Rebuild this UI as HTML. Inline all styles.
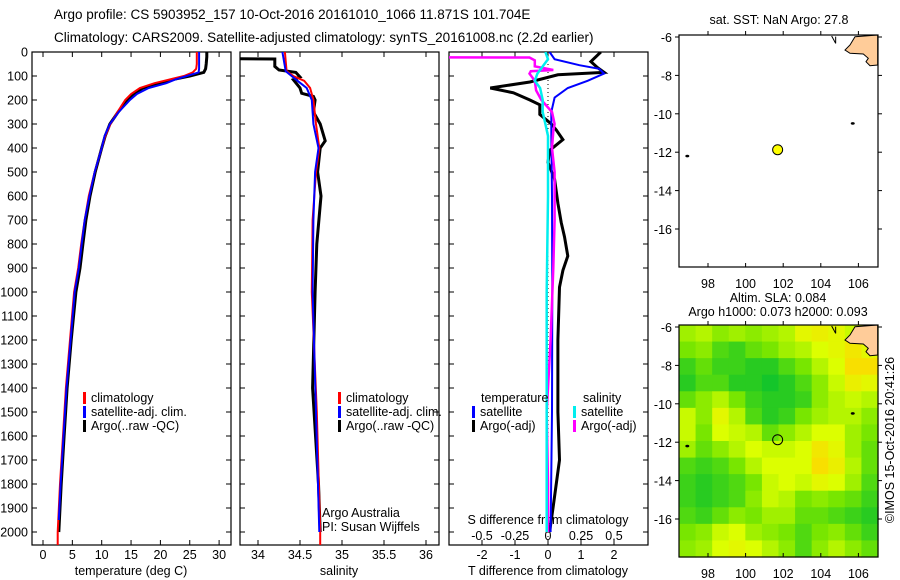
<!DOCTYPE html>
<html><head><meta charset="utf-8">
<style>
html,body{margin:0;padding:0;background:#fff;}
svg{display:block;font-family:"Liberation Sans",sans-serif;}
text{font-size:12.5px;fill:#000;}
</style></head>
<body>
<svg id="chart" width="900" height="580" viewBox="0 0 900 580" xmlns="http://www.w3.org/2000/svg">
<defs>
<clipPath id="c1"><rect x="32" y="52" width="199" height="493"/></clipPath>
<clipPath id="c2"><rect x="240" y="52" width="199" height="493"/></clipPath>
<clipPath id="c3"><rect x="449" y="52" width="199" height="493"/></clipPath>
<clipPath id="cm1"><rect x="679" y="35" width="199" height="232"/></clipPath>
<clipPath id="cm2"><rect x="679" y="325" width="199" height="232"/></clipPath>
</defs>
<text x="54" y="19" style="font-size:13.5px">Argo profile: CS 5903952_157 10-Oct-2016 20161010_1066 11.871S 101.704E</text>
<text x="54" y="42" style="font-size:13.5px">Climatology: CARS2009. Satellite-adjusted climatology: synTS_20161008.nc (2.2d earlier)</text>
<g id="g"></g>
</svg>
<script>
// ---------- data ----------
const depthTicks = [0,100,200,300,400,500,600,700,800,900,1000,1100,1200,1300,1400,1500,1600,1700,1800,1900,2000];
const tempTicks = [0,5,10,15,20,25,30];
const salTicks = [34,34.5,35,35.5,36];
const salTickLabels = ["34","34.5","35","35.5","36"];
const tdTicks = [-2,-1,0,1,2];
const sdTicks = [-0.5,-0.25,0,0.25,0.5];
const sdTickLabels = ["-0.5","-0.25","0","0.25","0.5"];

const depthTA = [0,20,50,70,85,100,115,130,150,175,200,250,300,350,400,500,600,700,800,900,1000,1200,1400,1600,1800,2000];
const tempArgo = [27.9,27.9,27.8,27.7,27.4,25,22,20,17,15.5,14.5,12.8,11.4,10.6,10,8.9,8,7.3,6.8,6.3,5.6,4.8,4.1,3.6,3.1,2.7];
const depthTC = [0,20,50,70,85,100,115,130,150,175,200,250,300,350,400,500,600,700,800,900,1000,1200,1400,1600,1800,2000,2055];
const tempClim = [26.2,26.2,26.2,26.1,25.5,24,21.5,19,16.5,15,14,12.7,11.5,10.6,10,8.8,7.8,7.1,6.5,6,5.3,4.6,3.9,3.4,2.9,2.5,2.5];
const depthTS = [0,20,50,70,85,100,115,130,150,175,200,250,300,350,400,500,600,700,800,900,1000,1200,1400,1600,1800,1950];
const tempSat = [26.6,26.6,26.6,26.6,26.5,24.5,22.5,21,18,16,14.8,12.9,11.4,10.5,10,8.8,7.9,7.1,6.6,6.1,5.4,4.7,4.0,3.5,3.0,2.7];

const depthSA = [28,29,60,75,85,104,115,150,172,185,200,250,300,370,400,500,600,800,1000,1400,1800,2000];
const salArgo = [33.6,34.2,34.2,34.25,34.45,34.5,34.42,34.5,34.52,34.66,34.68,34.66,34.74,34.8,34.74,34.71,34.75,34.7,34.68,34.65,34.72,34.74];
const depthSC = [0,80,100,120,150,200,300,400,500,700,1000,1500,2000,2055];
const salClim = [34.32,34.34,34.42,34.55,34.62,34.66,34.69,34.73,34.69,34.65,34.64,34.7,34.74,34.74];
const depthSS = [0,80,100,120,150,200,300,400,500,700,1000,1500,2000];
const salSat = [34.29,34.33,34.4,34.47,34.58,34.64,34.66,34.72,34.68,34.66,34.65,34.69,34.73];

const depthTDA = [0,40,65,85,95,125,150,170,200,220,260,300,325,365,410,460,530,630,710,770,850,910,980,1200,1400,1500,1700,1900,2000];
const tdArgo = [1.6,1.3,1.5,1.7,0.3,-0.55,-1.75,-1.05,-0.55,-0.25,-0.25,0.1,0.25,0.45,0.05,0,0.2,0.3,0.4,0.5,0.6,0.45,0.35,0.3,0.3,0.3,0.35,0.15,0.05];
const depthTDS = [0,30,55,70,90,120,150,190,250,350,600,1000,1500,2000];
const tdSat = [0.05,0.2,0.95,1.55,1.7,1.2,0.6,0.2,0.1,0.1,0.12,0.13,0.12,0.08];
const depthSDS = [0,30,60,90,120,150,200,250,300,350,600,1000,1500,2000];
const sdSat = [-0.02,0,-0.04,-0.08,-0.1,-0.06,-0.04,-0.04,-0.02,0,0,-0.01,-0.01,-0.01];
const depthSDA = [22,23,35,60,75,80,90,120,160,200,250,300,330,400,500,700,900,1200,1500,1800,2000];
const sdArgo = [-1,-0.14,-0.1,-0.1,0.04,-0.13,-0.14,-0.1,-0.09,-0.05,0.03,0.05,0.04,0.03,0.05,0.05,0.04,0.02,-0.01,0.0,0.0];

const lonTicks = [98,100,102,104,106];
const latTicks = [-6,-8,-10,-12,-14,-16];
const argoLon = [101.704];
const argoLat = [-11.871];
const islandLon = [105.7,96.9];
const islandLat = [-10.5,-12.2];
const slaGrid = [
[.40,.45,.35,.40,.35,.40,.45,.60,.65,.60,.50,.50],
[.30,.35,.20,.15,.25,.30,.40,.45,.55,.60,.70,.60],
[.15,.25,.15,.15,.10,.10,.20,.30,.45,.55,.75,.75],
[.10,.20,.20,.10,.10,.05,.10,.20,.35,.50,.65,.60],
[.25,.35,.45,.30,.15,.10,.10,.15,.35,.45,.50,.45],
[.50,.35,.60,.45,.20,.10,.15,.30,.40,.45,.45,.35],
[.50,.30,.55,.50,.45,.25,.35,.45,.55,.55,.40,.30],
[.40,.25,.35,.45,.55,.50,.50,.55,.70,.60,.40,.25],
[.20,.15,.20,.30,.45,.55,.55,.55,.75,.65,.45,.25],
[.15,.10,.15,.20,.30,.50,.55,.50,.60,.55,.40,.20],
[.15,.10,.15,.20,.35,.50,.45,.30,.35,.30,.25,.15],
[.20,.15,.25,.35,.30,.40,.40,.25,.25,.20,.15,.10],
[.30,.35,.50,.55,.40,.35,.30,.20,.30,.35,.25,.15],
[.35,.40,.55,.60,.55,.45,.35,.20,.35,.45,.35,.25]];

// ---------- scales ----------
const NS='http://www.w3.org/2000/svg';
const G=document.getElementById('g');
const yD=d=>52+d*0.24;
const xT=t=>43+t*5.87;
const xS=s=>258+(s-34)*84;
const xTD=v=>548+v*33;
const xSD=v=>548+v*132;
const xLon=l=>708+(l-98)*18.8;
const yLat=(l,top)=>top+2+(-6-l)*19.2;
function el(tag,attrs,parent){const e=document.createElementNS(NS,tag);for(const k in attrs)e.setAttribute(k,attrs[k]);(parent||G).appendChild(e);return e;}
function txt(x,y,s,anchor,parent){const t=el('text',{x:x,y:y,'text-anchor':anchor||'start'},parent);t.textContent=s;return t;}

// ---------- panels ----------
const panels=[{x:32,clip:'c1',name:'temperature-panel'},{x:240,clip:'c2',name:'salinity-panel'},{x:449,clip:'c3',name:'difference-panel'}];
panels.forEach(p=>{
  const r=el('rect',{x:p.x,y:52,width:199,height:493,fill:'#fff',stroke:'#000','stroke-width':1.2});
  
  
  depthTicks.forEach(d=>{
    el('line',{x1:p.x,x2:p.x+5,y1:yD(d),y2:yD(d),stroke:'#000'});
    el('line',{x1:p.x+199,x2:p.x+194,y1:yD(d),y2:yD(d),stroke:'#000'});
  });
});
depthTicks.forEach(d=>{
  const t=txt(28,yD(d)+4.5,String(d),'end');
  
  
});
function xticks(vals,labels,fx,ly){
  vals.forEach((v,i)=>{
    el('line',{x1:fx(v),x2:fx(v),y1:52,y2:57,stroke:'#000'});
    el('line',{x1:fx(v),x2:fx(v),y1:545,y2:540,stroke:'#000'});
    const t=txt(fx(v),ly,labels[i],'middle');
    
    
  });
}
xticks(tempTicks,tempTicks.map(String),xT,559);
xticks(salTicks,salTickLabels,xS,559);
xticks(tdTicks,tdTicks.map(String),xTD,559);
sdTicks.forEach((v,i)=>{
  const t=txt(xSD(v),540,sdTickLabels[i],'middle');
  
  
});
[[131,'temperature (deg C)','x-axis-title-temperature'],[339,'salinity','x-axis-title-salinity'],[548,'T difference from climatology','x-axis-title-t-diff']].forEach(a=>{
  const t=txt(a[0],575,a[1],'middle');
  
  
});
const sdt=txt(548,524,'S difference from climatology','middle');



// zero dotted line
const zl=el('line',{x1:xTD(0),x2:xTD(0),y1:52,y2:545,stroke:'#000','stroke-dasharray':'1,3','stroke-width':1});



function series(ds,vs,fx,color,clip,name,w){
  const pts=ds.map((d,i)=>fx(vs[i]).toFixed(1)+','+yD(d).toFixed(1)).join(' ');
  const p=el('polyline',{points:pts,fill:'none',stroke:color,'stroke-width':w||2,'clip-path':'url(#'+clip+')','stroke-linejoin':'miter'});
  
  
}
series(depthTA,tempArgo,xT,'#000','c1','temp-argo-line',3);
series(depthTC,tempClim,xT,'#f00','c1','temp-climatology-line',2);
series(depthTS,tempSat,xT,'#00f','c1','temp-satellite-line',2);
series(depthSA,salArgo,xS,'#000','c2','sal-argo-line',3);
series(depthSC,salClim,xS,'#f00','c2','sal-climatology-line',2);
series(depthSS,salSat,xS,'#00f','c2','sal-satellite-line',2);
series(depthTDA,tdArgo,xTD,'#000','c3','tdiff-argo-line',3);
series(depthTDS,tdSat,xTD,'#00f','c3','tdiff-satellite-line',2);
series(depthSDA,sdArgo,xSD,'#f0f','c3','sdiff-argo-line',2.5);
series(depthSDS,sdSat,xSD,'#0ee','c3','sdiff-satellite-line',2.5);

// legends
function legItem(x,y,color,label,name){
  el('rect',{x:x,y:y-10,width:3,height:12,fill:color});
  const t=txt(x+8,y,label);
  
  
}
legItem(83,402,'#f00','climatology','legend-climatology');
legItem(83,416,'#00f','satellite-adj. clim.','legend-satellite-adj');
legItem(83,430,'#000','Argo(..raw -QC)','legend-argo');
legItem(338,402,'#f00','climatology','legend-sal-climatology');
legItem(338,416,'#00f','satellite-adj. clim.','legend-sal-satellite-adj');
legItem(338,430,'#000','Argo(..raw -QC)','legend-sal-argo');
const lt=txt(481,402,'temperature');
const ls=txt(583,402,'salinity');
legItem(472,416,'#00f','satellite','legend-t-satellite');
legItem(472,430,'#000','Argo(-adj)','legend-t-argo');
legItem(573,416,'#0ee','satellite','legend-s-satellite');
legItem(573,430,'#f0f','Argo(-adj)','legend-s-argo');
const pi1=txt(322,517,'Argo Australia');
const pi2=txt(322,531,'PI: Susan Wijffels');

// ---------- maps ----------
function colorFor(v){
  const st=[[0,[0,190,50]],[0.3,[120,230,0]],[0.55,[220,255,0]],[0.8,[255,215,0]],[1,[255,170,0]]];
  for(let i=1;i<st.length;i++){ if(v<=st[i][0]){const a=st[i-1],b=st[i];const f=(v-a[0])/(b[0]-a[0]);
    return 'rgb('+a[1].map((c,k)=>Math.round(c+(b[1][k]-c)*f)).join(',')+')';}}
  return 'rgb(255,170,0)';
}
function landPoly(top,clip){
  const raw=[[615,110],[683,105],[683,195],[660,197],[648,185],[655,175],[640,162],[600,160],[585,150],[600,135],[615,110]];
  const pts=raw.map(p=>(p[0]/3+650).toFixed(1)+','+(p[1]/3+top-35).toFixed(1)).join(' ');
  const l=el('polygon',{points:pts,fill:'#ffcc99',stroke:'#000','stroke-width':1,'clip-path':'url(#'+clip+')'});
  
  
  el('polyline',{points:(545/3+650)+','+(108/3+top-35)+' '+(557/3+650)+','+(130/3+top-35)+' '+(557/3+650)+','+(110/3+top-35),fill:'none',stroke:'#000','clip-path':'url(#'+clip+')'});
}
function mapFrame(top,clip,name){
  const f=el('rect',{x:679,y:top,width:199,height:232,fill:'none',stroke:'#000','stroke-width':1.2});
  
  
  lonTicks.forEach(l=>{
    el('line',{x1:xLon(l),x2:xLon(l),y1:top,y2:top-4,stroke:'#000'});
    el('line',{x1:xLon(l),x2:xLon(l),y1:top+232,y2:top+228,stroke:'#000'});
    const t=txt(xLon(l),top+253,String(l),'middle');
    
    
  });
  latTicks.forEach(l=>{
    el('line',{x1:679,x2:675,y1:yLat(l,top),y2:yLat(l,top),stroke:'#000'});
    el('line',{x1:878,x2:882,y1:yLat(l,top),y2:yLat(l,top),stroke:'#000'});
    const t=txt(672,yLat(l,top)+5,String(l),'end');
    
    
  });
  islandLon.forEach((lo,i)=>{
    const c=el('ellipse',{cx:xLon(lo),cy:yLat(islandLat[i],top),rx:2,ry:1.3,fill:'#000','clip-path':'url(#'+clip+')'});
    
    
  });
}
// top map
const t1=txt(779,24,'sat. SST: NaN Argo: 27.8','middle');
landPoly(35,'cm1');
mapFrame(35,'cm1','sst-map');
argoLon.forEach((lo,i)=>{
  const c=el('circle',{cx:xLon(lo),cy:yLat(argoLat[i],35),r:5,fill:'#ffff00',stroke:'#000','stroke-width':1});
  
  
});
// bottom map heatmap
const rows=slaGrid.length, cols=slaGrid[0].length;
const cw=199/cols, ch=232/rows;
slaGrid.forEach((row,r)=>row.forEach((v,c)=>{
  const cell=el('rect',{x:(679+c*cw).toFixed(2),y:(325+r*ch).toFixed(2),width:(cw+0.6).toFixed(2),height:(ch+0.6).toFixed(2),fill:colorFor(v)});
  
  
}));
landPoly(325,'cm2');
mapFrame(325,'cm2','sla-map');
argoLon.forEach((lo,i)=>{
  const c=el('circle',{cx:xLon(lo),cy:yLat(argoLat[i],325),r:5,fill:'none',stroke:'#000','stroke-width':1});
  
  
});
const t2=txt(778,302,'Altim. SLA: 0.084','middle');
const t3=txt(778,316,'Argo h1000: 0.073 h2000: 0.093','middle');
const cr=txt(0,0,'©IMOS 15-Oct-2016 20:41:26','middle');
cr.setAttribute('transform','translate(894,440) rotate(-90)');


</script>
</body></html>
